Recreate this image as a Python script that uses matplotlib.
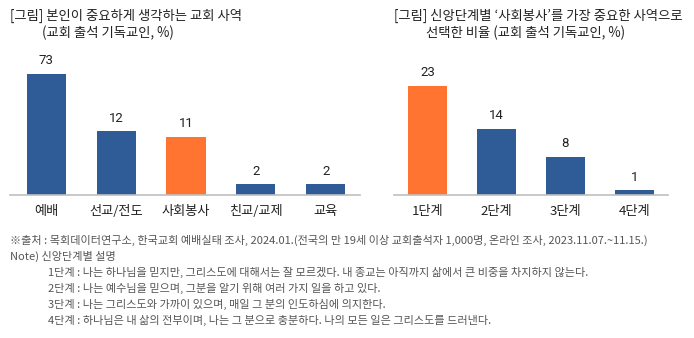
import matplotlib
matplotlib.use("Agg")
import matplotlib.pyplot as plt

plt.rcParams['font.family'] = ['Noto Sans CJK KR', 'DejaVu Sans']

# ---- data ----
left_categories = ['예배', '선교/전도', '사회봉사', '친교/교제', '교육']
left_values = [73, 12, 11, 2, 2]
left_highlight = [False, False, True, False, False]

right_categories = ['1단계', '2단계', '3단계', '4단계']
right_values = [23, 14, 8, 1]
right_highlight = [True, False, False, False]

left_title = ['[그림] 본인이 중요하게 생각하는 교회 사역', '(교회 출석 기독교인, %)']
right_title = ["[그림] 신앙단계별 ‘사회봉사’를 가장 중요한 사역으로", '선택한 비율 (교회 출석 기독교인, %)']

footer_lines = [
    '※출처 : 목회데이터연구소, 한국교회 예배실태 조사, 2024.01.(전국의 만 19세 이상 교회출석자 1,000명, 온라인 조사, 2023.11.07.~11.15.)',
    'Note) 신앙단계별 설명',
    '1단계 : 나는 하나님을 믿지만, 그리스도에 대해서는 잘 모르겠다. 내 종교는 아직까지 삶에서 큰 비중을 차지하지 않는다.',
    '2단계 : 나는 예수님을 믿으며, 그분을 알기 위해 여러 가지 일을 하고 있다.',
    '3단계 : 나는 그리스도와 가까이 있으며, 매일 그 분의 인도하심에 의지한다.',
    '4단계 : 하나님은 내 삶의 전부이며, 나는 그 분으로 충분하다. 나의 모든 일은 그리스도를 드러낸다.',
]

BLUE = '#2F5B97'
ORANGE = '#FF7430'
W, H = 694, 338

fig = plt.figure(figsize=(W / 100, H / 100), dpi=100)
fig.patch.set_facecolor('white')


def px_rect(x0, y_top, x1, y_bot):
    return [x0 / W, 1 - y_bot / H, (x1 - x0) / W, (y_bot - y_top) / H]


def draw(ax, cats, vals, hl, ytop, xlim):
    colors = [ORANGE if h else BLUE for h in hl]
    xs = list(range(len(cats)))
    ax.bar(xs, vals, width=0.56, color=colors, edgecolor='none', zorder=2)
    ax.set_ylim(0, ytop)
    ax.set_xlim(*xlim)
    for x, v in zip(xs, vals):
        ax.annotate(str(v), xy=(x, min(v, ytop)), xytext=(0, 9.5),
                    textcoords='offset points', ha='center', va='center',
                    fontsize=9.5, color='#222222', family=['Roboto', 'DejaVu Sans'],
                    annotation_clip=False)
    ax.set_xticks(xs)
    ax.set_xticklabels(cats, fontsize=9.5, color='#222222')
    ax.tick_params(axis='x', length=0, pad=7)
    ax.set_yticks([])
    for s in ['top', 'left', 'right']:
        ax.spines[s].set_visible(False)
    ax.spines['bottom'].set_color('#BFBFBF')
    ax.spines['bottom'].set_linewidth(1.2)
    ax.patch.set_alpha(0)


axL = fig.add_axes(px_rect(10, 74, 360, 195))
draw(axL, left_categories, left_values, left_highlight, 22.8, (-0.52, 4.49))

axR = fig.add_axes(px_rect(394, 74, 668, 195))
draw(axR, right_categories, right_values, right_highlight, 25.5, (-0.49, 3.49))

# titles
TFS = 9.6
fig.text(10 / W, 1 - 16 / H, left_title[0], fontsize=TFS, color='#222222', va='center', ha='left')
fig.text(42 / W, 1 - 33 / H, left_title[1], fontsize=TFS, color='#222222', va='center', ha='left')
fig.text(394 / W, 1 - 16 / H, right_title[0], fontsize=TFS, color='#222222', va='center', ha='left')
fig.text(426 / W, 1 - 33 / H, right_title[1], fontsize=TFS, color='#222222', va='center', ha='left')

# footer
foot_y = [240, 256, 272, 288, 304, 320]
foot_x = [10, 10, 48, 48, 48, 48]
for t, x, y in zip(footer_lines, foot_x, foot_y):
    fig.text(x / W, 1 - y / H, t, fontsize=8.0, color='#555555', va='center', ha='left')

fig.savefig('out.png', dpi=100, facecolor='white')
